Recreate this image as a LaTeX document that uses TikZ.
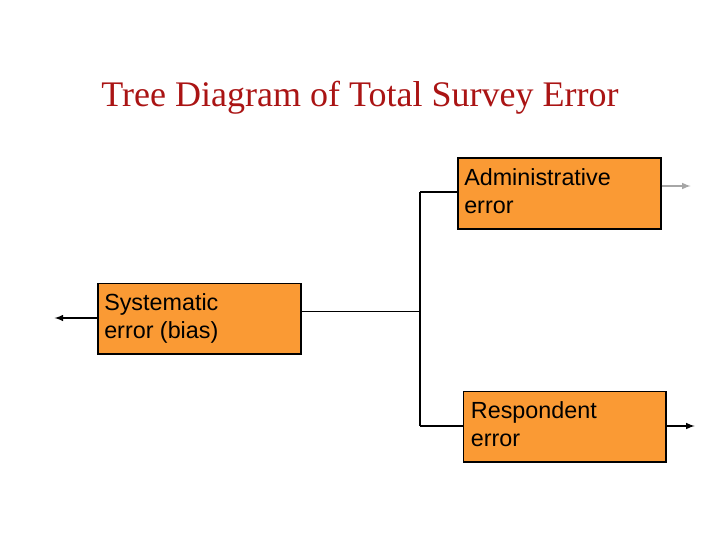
\documentclass[tikz,border=0pt]{standalone}
\usepackage{fontspec}
\setmainfont{Liberation Sans}
\newfontfamily\titlefont{Liberation Serif}
\begin{document}
\begin{tikzpicture}[x=1pt,y=-1pt,
  box/.style={draw=black,line width=1.2pt,fill={rgb,255:red,250;green,154;blue,52},inner sep=0pt,anchor=north west,minimum width=152pt,minimum height=53pt},
  lbl/.style={anchor=north west,align=left,font=\fontsize{17.5}{21}\selectfont,inner sep=0pt},
  conn/.style={line width=1.2pt},
  arr/.style={line width=1.2pt,-latex}]
\useasboundingbox (0,0) rectangle (540,405);
\node[text={rgb,255:red,170;green,20;blue,20},font=\titlefont\fontsize{27}{32}\selectfont] (title) at (270,73) {Tree Diagram of Total Survey Error};
\node[box] (adm) at (343,118) {};
\node[lbl] (admt) at (348,126) {Administrative\\error};
\node[box] (sys) at (73,212) {};
\node[lbl] (syst) at (78,220) {Systematic\\error (bias)};
\node[box] (res) at (347,293) {};
\node[lbl] (rest) at (353,301) {Respondent\\error};
\coordinate (j) at (315,233.5);
\coordinate (jt) at (315,144);
\coordinate (jb) at (315,319.5);
\draw[conn] (sys.east |- j) -- (j);
\draw[conn] (jt) -- (jb);
\draw[conn] (jt) -- (adm.west |- jt);
\draw[conn] (jb) -- (res.west |- jb);
\coordinate (la) at (41,238.5);
\draw[arr] (sys.west |- la) -- (la);
\coordinate (ra) at (518,139.5);
\draw[arr,gray!70] (adm.east |- ra) -- (ra);
\coordinate (rb) at (521,319.5);
\draw[arr] (res.east |- rb) -- (rb);
\end{tikzpicture}
\end{document}
